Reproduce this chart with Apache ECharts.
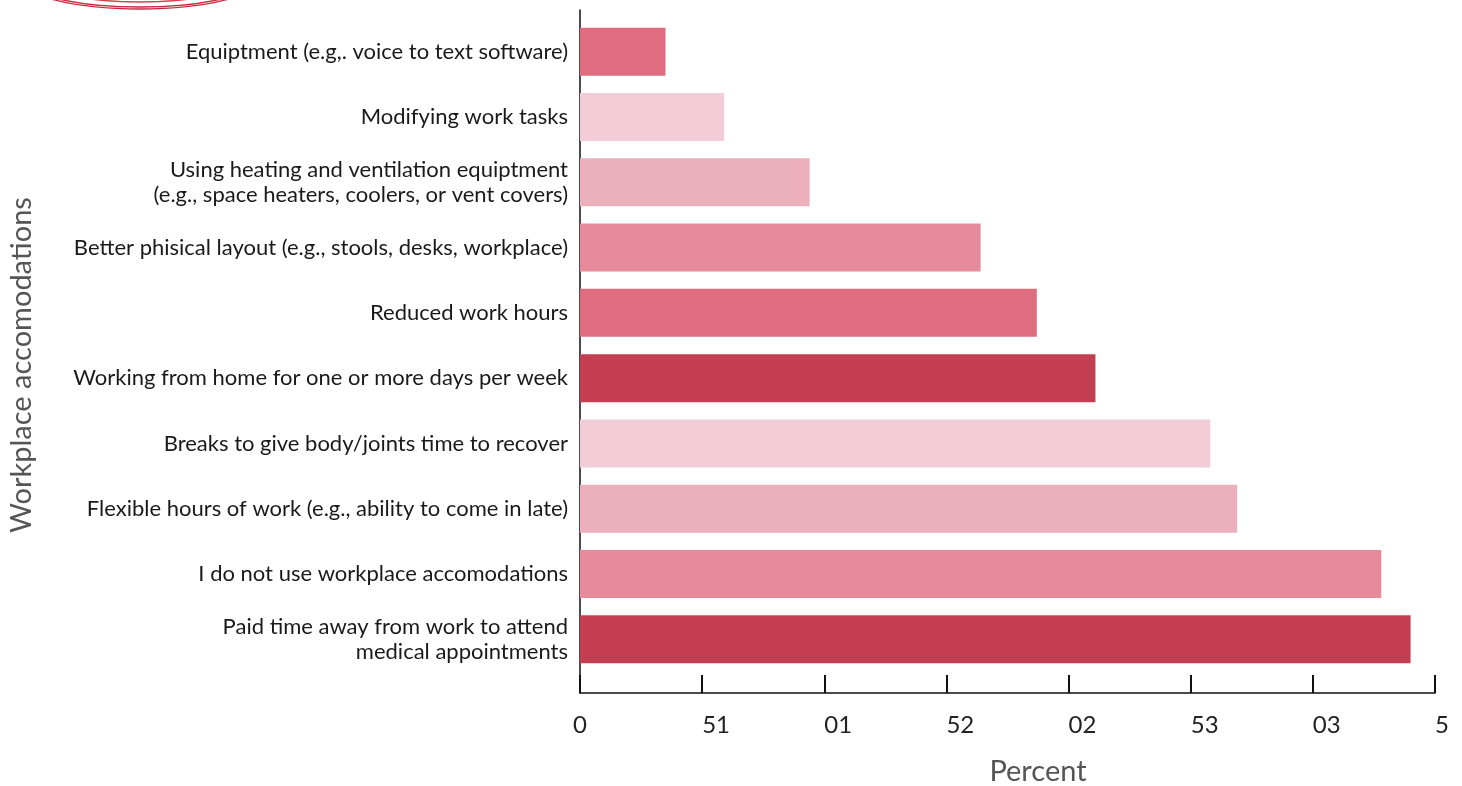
<!DOCTYPE html>
<html>
<head>
<meta charset="utf-8">
<script src="https://cdn.jsdelivr.net/npm/echarts@6/dist/echarts.min.js"></script>
<style>
html,body{margin:0;padding:0;background:#fff;}
#chart{width:1462px;height:786px;}
</style>
</head>
<body>
<div id="chart"></div>
<script>
const categories = [
  "Equiptment (e.g,. voice to text software)",
  "Modifying work tasks",
  "Using heating and ventilation equiptment\n(e.g., space heaters, coolers, or vent covers)",
  "Better phisical layout (e.g., stools, desks, workplace)",
  "Reduced work hours",
  "Working from home for one or more days per week",
  "Breaks to give body/joints time to recover",
  "Flexible hours of work (e.g., ability to come in late)",
  "I do not use workplace accomodations",
  "Paid time away from work to attend\nmedical appointments"
];
const values = [3.5, 5.9, 9.4, 16.4, 18.7, 21.1, 25.8, 26.9, 32.8, 34.0];
const barColors = ["#e06c80", "#f2ccd6", "#ecafbc", "#e78b9c", "#e06c80", "#c43e52", "#f2ccd6", "#ecafbc", "#e78b9c", "#c43e52"];
const tickLabels = ["0", "51", "01", "52", "02", "53", "03", "5"];
const xTitle = "Percent";
const yTitle = "Workplace accomodations";

const FONT = "Lato";
const chart = echarts.init(document.getElementById('chart'));
chart.setOption({
  animation: false,
  backgroundColor: '#fff',
  grid: [
    {left: 580, right: 27, top: 10, bottom: 93, containLabel: false},
    {left: 580, right: 27, top: 19, bottom: 114, containLabel: false}
  ],
  xAxis: [
    {
      gridIndex: 0, type: 'value', min: 0, max: 35, interval: 5,
      axisLine: {show: true, lineStyle: {color: '#111', width: 1.5}},
      axisTick: {show: true, inside: true, length: 18, lineStyle: {color: '#111', width: 2}},
      splitLine: {show: false},
      axisLabel: {
        show: true, margin: 20, align: 'left', alignMinLabel: 'center',
        fontFamily: FONT, fontSize: 24, color: '#222',
        formatter: function (v) { return tickLabels[Math.round(v / 5)]; }
      }
    },
    {
      gridIndex: 1, type: 'value', min: 0, max: 35, show: false
    }
  ],
  yAxis: [
    {
      gridIndex: 0, type: 'value', min: 0, max: 1,
      axisLine: {show: true, lineStyle: {color: '#111', width: 1.5}},
      axisTick: {show: false}, axisLabel: {show: false}, splitLine: {show: false}
    },
    {
      gridIndex: 1, type: 'category', data: categories, inverse: true,
      axisLine: {show: false}, axisTick: {show: false},
      axisLabel: {
        show: true, margin: 12, fontFamily: FONT, fontSize: 22, color: '#1a1a1a',
        lineHeight: 25, align: 'right', padding: [0, 0, 4, 0]
      }
    }
  ],
  series: [{
    type: 'bar',
    xAxisIndex: 1, yAxisIndex: 1,
    data: values.map((v, i) => ({value: v, itemStyle: {color: barColors[i]}})),
    barWidth: 48
  }],
  graphic: [
    {type: 'ellipse', shape: {cx: 140, cy: -22, rx: 121, ry: 31}, style: {fill: 'none', stroke: '#c8283c', lineWidth: 1.4}},
    {type: 'ellipse', shape: {cx: 140, cy: -22, rx: 118, ry: 29}, style: {fill: 'none', stroke: '#c8283c', lineWidth: 1.4}},
    {type: 'ellipse', shape: {cx: 140, cy: -22, rx: 100, ry: 24}, style: {fill: 'none', stroke: '#d04050', lineWidth: 1.5}},
    {type: 'text', x: 1038, y: 772, style: {text: xTitle, fontFamily: FONT, fontSize: 29, fill: '#555', textAlign: 'center', textVerticalAlign: 'middle'}},
    {type: 'text', x: 22, y: 365, rotation: Math.PI / 2, style: {text: yTitle, fontFamily: FONT, fontSize: 29, fill: '#555', textAlign: 'center', textVerticalAlign: 'middle'}}
  ]
});
</script>
</body>
</html>
